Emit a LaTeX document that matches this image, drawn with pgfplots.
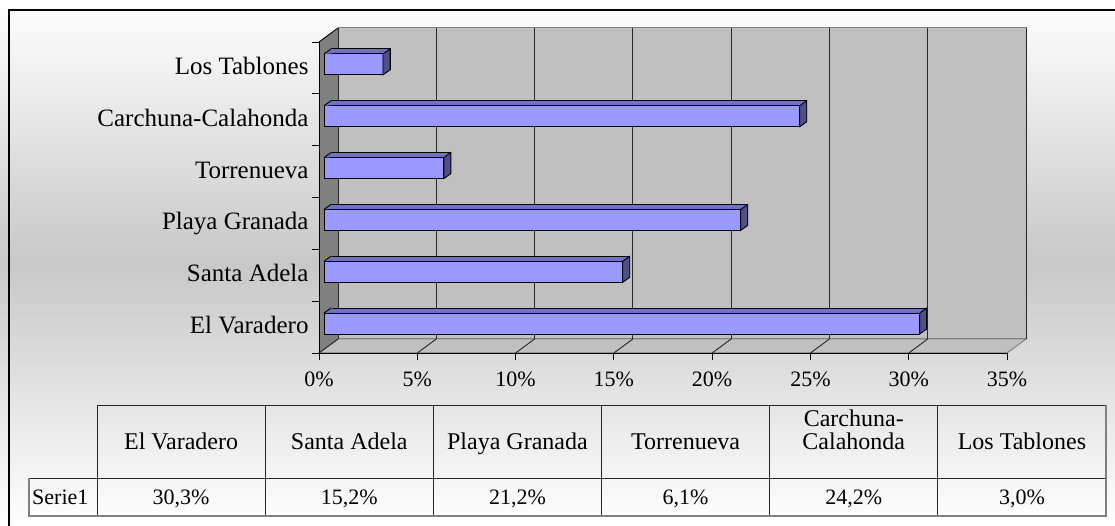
\documentclass[border=0pt]{standalone}
\usepackage{pgfplots}
\pgfplotsset{compat=1.18}
\usepackage{pgfplotstable}
\usepackage{fontspec}
\setmainfont{Liberation Serif}

\definecolor{barfront}{HTML}{9999FF}
\definecolor{bartop}{HTML}{7070C8}
\definecolor{barside}{HTML}{505084}
\definecolor{wall}{HTML}{C0C0C0}
\definecolor{sidewall}{HTML}{808080}
\definecolor{bgmid}{HTML}{C8C8C8}

% Serie1, bottom to top
\pgfplotstableread{
idx val
0 30.3
1 15.2
2 21.2
3 6.1
4 24.2
5 3.0
}\datatable

% right side face of a bar, drawn at the bar end
\pgfdeclareplotmark{sideface}{%
  \pgfpathmoveto{\pgfpoint{5pt}{-7pt}}%
  \pgfpathlineto{\pgfpoint{5pt}{14pt}}%
  \pgfpathlineto{\pgfpoint{12pt}{19pt}}%
  \pgfpathlineto{\pgfpoint{12pt}{-2pt}}%
  \pgfpathclose
  \pgfusepathqfillstroke}
% bevel of the top face at the bar start
\pgfdeclareplotmark{startface}{%
  \pgfpathmoveto{\pgfpoint{5pt}{14pt}}%
  \pgfpathlineto{\pgfpoint{12pt}{19pt}}%
  \pgfpathlineto{\pgfpoint{13.5pt}{18.4pt}}%
  \pgfpathlineto{\pgfpoint{13.5pt}{14.5pt}}%
  \pgfpathclose
  \pgfusepathqfill
  \pgfpathmoveto{\pgfpoint{5pt}{14pt}}%
  \pgfpathlineto{\pgfpoint{12pt}{19pt}}%
  \pgfusepathqstroke}

\begin{document}
\begin{tikzpicture}[x=1pt,y=1pt]
\useasboundingbox (0,0) rectangle (1115,526);
\clip (0,0) rectangle (1115,526);
\shade[top color=white, bottom color=white, middle color=bgmid] (0,0) rectangle (1115,526);
\draw[black, line width=1.5pt] (9,-5) -- (9,516) -- (1125,516);

% walls and floor
\draw[fill=wall, draw=sidewall, line width=1pt] (338,187) rectangle (1026,498);
\draw[fill=wall, draw=sidewall, line width=1pt] (319,173) -- (338,187) -- (1026,187) -- (1007,173) -- cycle;
\fill[sidewall] (319,173) -- (338,187) -- (338,498) -- (319,484) -- cycle;
\draw[black, line width=0.9pt] (319,484) -- (338,498);
\foreach \k in {0,...,6} \draw[black!85, line width=0.9pt] ({319+\k*98.2857},173) -- ++(19,14);

\begin{axis}[
  at={(319pt,173pt)}, anchor=south west,
  scale only axis, width=688pt, height=311pt,
  xmin=0, xmax=35, ymin=-0.5, ymax=5.5,
  clip=false,
  axis x line*=bottom, axis y line*=left,
  axis line style={-, black, line width=0.9pt},
  tick align=outside, major tick length=7pt,
  tick style={black, line width=0.9pt},
  xtick={0,5,...,35},
  ytick={-0.5,0.5,...,5.5},
  yticklabels={El Varadero,Santa Adela,Playa Granada,Torrenueva,Carchuna-Calahonda,Los Tablones,{}},
  yticklabel style={font=\fontsize{25}{25}\selectfont, yshift=25.9pt, text height=16pt, text depth=3pt},
  xticklabel={\pgfmathprintnumber{\tick}\%},
  xticklabel style={font=\fontsize{22}{22}\selectfont, text height=14pt, text depth=4pt, yshift=-9pt},
  /pgf/number format/assume math mode=true,
  xmajorgrids,
  major grid style={black!85, line width=1pt, xshift=19pt, yshift=14pt},
]
\addplot[xbar, bar width=21pt, bar shift=8.5pt, xshift=12pt, fill=bartop, draw=black, line width=0.9pt]
  table[x=val, y=idx] {\datatable};
\addplot[only marks, mark=startface, mark options={fill=bartop, draw=black, line width=0.9pt}]
  table[x expr=0, y=idx] {\datatable};
\addplot[xbar, bar width=21pt, bar shift=3.5pt, xshift=5pt, fill=barfront, draw=black, line width=0.9pt]
  table[x=val, y=idx] {\datatable};
\addplot[only marks, mark=sideface, mark options={fill=barside, draw=black, line width=0.9pt}]
  table[x=val, y=idx] {\datatable};
\end{axis}

% data table
\draw[black!85, line width=0.9pt] (97,121) -- (1106,121);
\draw[black!85, line width=0.9pt] (29,48) -- (1106,48);
\foreach \i in {0,...,5} \draw[black!85, line width=0.9pt] ({97+\i*168.17},121) -- ({97+\i*168.17},10);
\draw[sidewall, line width=1.2pt] (29,48) -- (29,10) -- (1106,10) -- (1106,121);
\foreach \name [count=\i from 0] in {El Varadero, Santa Adela, Playa Granada, Torrenueva, Calahonda, Los Tablones}
  \node[font=\fontsize{24}{24}\selectfont, anchor=base, inner sep=0] at ({97+(\i+0.5)*168.17},76) {\name};
\node[font=\fontsize{24}{24}\selectfont, anchor=base, inner sep=0] at ({97+4.5*168.17},99) {Carchuna-};
\node[font=\fontsize{22}{22}\selectfont, anchor=base west, inner sep=0] at (32,21) {Serie1};
\foreach \v [count=\i from 0] in {{30,3\%}, {15,2\%}, {21,2\%}, {6,1\%}, {24,2\%}, {3,0\%}}
  \node[font=\fontsize{22}{22}\selectfont, anchor=base, inner sep=0] at ({97+(\i+0.5)*168.17},21) {\v};
\end{tikzpicture}
\end{document}
